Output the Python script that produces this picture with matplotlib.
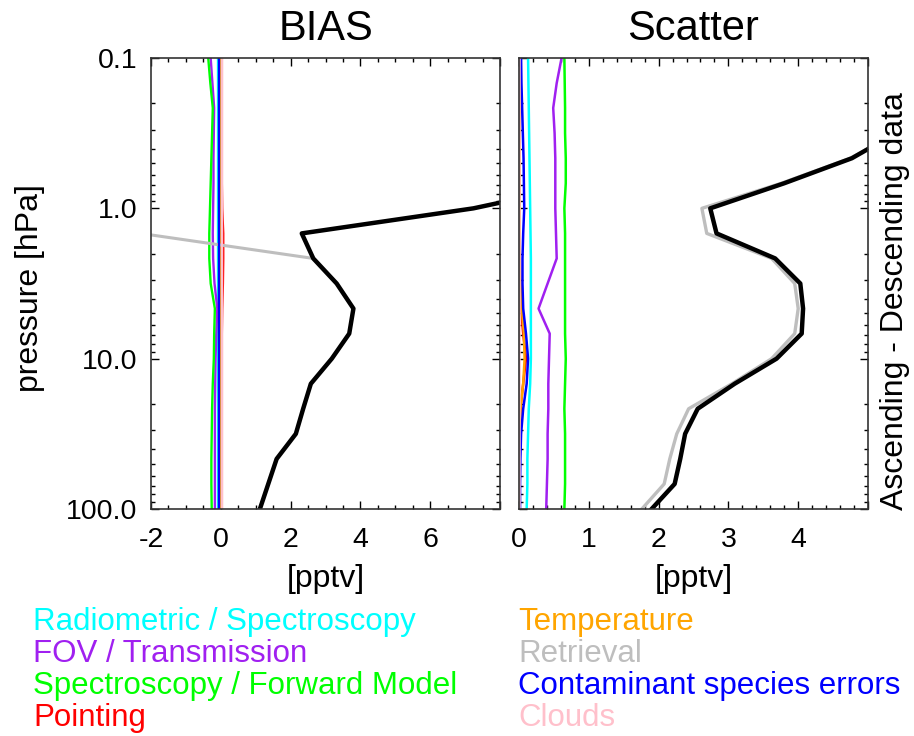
import matplotlib
matplotlib.use('Agg')
import matplotlib.pyplot as plt
from matplotlib.ticker import MultipleLocator, LogLocator, NullFormatter

plt.rcParams['font.family'] = ['Liberation Sans', 'DejaVu Sans']
plt.rcParams['font.size'] = 20.5

# pressure grid [hPa], 6 levels per decade
pressure = [0.1, 0.147, 0.215, 0.316, 0.464, 0.681, 1.0, 1.468, 2.154, 3.162,
            4.642, 6.813, 10.0, 14.68, 21.54, 31.62, 46.42, 68.13, 100.0]

# BIAS panel [pptv]
bias_radiometric = [-0.07] * 19
bias_fov = [-0.29, -0.24, -0.19, -0.20, -0.21, -0.21, -0.22, -0.23, -0.22, -0.18,
            -0.10, -0.13, -0.15, -0.16, -0.17, -0.17, -0.17, -0.17, -0.17]
bias_spectro = [-0.36, -0.30, -0.23, -0.25, -0.27, -0.29, -0.31, -0.33, -0.33, -0.29,
                -0.17, -0.19, -0.20, -0.23, -0.25, -0.26, -0.27, -0.27, -0.26]
bias_pointing = [0.03, 0.03, 0.03, 0.03, 0.03, 0.03, 0.04, 0.07, 0.07, 0.06,
                 0.04, 0.03, 0.03, 0.03, 0.03, 0.03, 0.03, 0.03, 0.03]
bias_temperature = [0.01] * 19
bias_contaminant = [-0.05] * 19
bias_clouds = [0.03] * 19
bias_total = [20.0, 18.0, 16.0, 14.0, 12.0, 10.6, 7.24, 2.32, 2.65, 3.32,
              3.80, 3.68, 3.18, 2.58, 2.36, 2.15, 1.60, 1.36, 1.12]
bias_retrieval = [-14.0, -13.0, -12.0, -11.0, -10.0, -9.0, -6.0, -2.3, 2.65, 3.32,
                  3.80, 3.68, 3.18, 2.58, 2.36, 2.15, 1.60, 1.36, 1.12]

# Scatter panel [pptv]
sc_radiometric = [0.13, 0.135, 0.14, 0.145, 0.15, 0.155, 0.16, 0.165, 0.17, 0.17,
                  0.17, 0.17, 0.17, 0.16, 0.14, 0.13, 0.12, 0.12, 0.11]
sc_fov = [0.61, 0.54, 0.49, 0.51, 0.52, 0.52, 0.52, 0.53, 0.54, 0.41,
          0.28, 0.44, 0.43, 0.42, 0.42, 0.41, 0.41, 0.40, 0.39]
sc_spectro = [0.65, 0.655, 0.66, 0.66, 0.67, 0.67, 0.65, 0.66, 0.66, 0.66,
              0.66, 0.66, 0.67, 0.66, 0.65, 0.66, 0.66, 0.66, 0.65]
sc_pointing = [0.005, 0.005, 0.005, 0.005, 0.005, 0.005, 0.005, 0.005, 0.005, 0.01,
               0.03, 0.06, 0.10, 0.06, 0.02, 0.005, 0.005, 0.005, 0.005]
sc_temperature = [0.01, 0.01, 0.01, 0.01, 0.01, 0.01, 0.01, 0.01, 0.01, 0.02,
                  0.04, 0.07, 0.08, 0.06, 0.02, 0.01, 0.01, 0.01, 0.01]
sc_contaminant = [0.03, 0.035, 0.045, 0.055, 0.065, 0.07, 0.075, 0.06, 0.05, 0.05,
                  0.06, 0.10, 0.13, 0.11, 0.06, 0.03, 0.02, 0.015, 0.015]
sc_clouds = [0.005] * 19
sc_total = [6.5, 6.2, 5.9, 5.4, 4.77, 3.80, 2.74, 2.83, 3.67, 4.03,
            4.07, 4.05, 3.69, 3.09, 2.56, 2.38, 2.31, 2.23, 1.90]
sc_retrieval = [6.5, 6.2, 5.9, 5.4, 4.75, 3.76, 2.62, 2.69, 3.62, 3.95,
                4.00, 3.95, 3.62, 3.05, 2.43, 2.26, 2.16, 2.08, 1.76]

labels = ['Radiometric / Spectroscopy', 'FOV / Transmission',
          'Spectroscopy / Forward Model', 'Pointing',
          'Temperature', 'Retrieval', 'Contaminant species errors', 'Clouds']
colors = ['#00ffff', '#a020f0', '#00ff00', '#ff0000',
          '#ffa500', '#bebebe', '#0000ff', '#ffc0cb']

bias_series = [bias_radiometric, bias_fov, bias_spectro, bias_pointing,
               bias_temperature, bias_retrieval, bias_contaminant, bias_clouds]
sc_series = [sc_radiometric, sc_fov, sc_spectro, sc_pointing,
             sc_temperature, sc_retrieval, sc_contaminant, sc_clouds]


def style_axis(ax, xlim, minor, xticks, xlabels, show_y):
    ax.set_yscale('log')
    ax.set_xlim(*xlim)
    ax.set_xticks(xticks, xlabels)
    ax.xaxis.set_minor_locator(MultipleLocator(minor))
    ax.yaxis.set_minor_locator(LogLocator(base=10, subs=range(2, 10)))
    ax.yaxis.set_minor_formatter(NullFormatter())
    ax.set_yticks([0.1, 1, 10, 100], ['0.1', '1.0', '10.0', '100.0'] if show_y else [])
    ax.set_ylim(100, 0.1)
    ax.tick_params(which='both', direction='in', top=True, right=True, width=1)
    ax.tick_params(which='major', length=6)
    ax.tick_params(which='minor', length=3)
    ax.tick_params(axis='x', which='major', pad=13)
    ax.tick_params(axis='y', which='major', pad=10)
    for s in ax.spines.values():
        s.set_linewidth(1.2)
        s.set_color('#333333')
    ax.set_xlabel('[pptv]', fontsize=23, labelpad=8)


fig = plt.figure(figsize=(9.14, 7.36), dpi=100)
ax1 = fig.add_axes([151 / 914, 1 - 509 / 736, 349 / 914, 451 / 736])
ax2 = fig.add_axes([519 / 914, 1 - 509 / 736, 349 / 914, 451 / 736])

for vals, c in zip(bias_series, colors):
    lw = 2.2 if c == '#bebebe' else 1.7
    ax1.plot(vals, pressure, color=c, lw=lw)
ax1.plot(bias_total, pressure, color='black', lw=3.2)

for vals, c in zip(sc_series, colors):
    lw = 2.4 if c == '#bebebe' else 1.8
    ax2.plot(vals, pressure, color=c, lw=lw)
ax2.plot(sc_total, pressure, color='black', lw=3.2)

style_axis(ax1, (-2, 8), 0.5, [-2, 0, 2, 4, 6, 8], ['-2', '0', '2', '4', '6', ''], True)
style_axis(ax2, (0, 5), 0.2, [0, 1, 2, 3, 4, 5], ['0', '1', '2', '3', '4', ''], False)

ax1.set_title('BIAS', fontsize=30, pad=13)
ax2.set_title('Scatter', fontsize=30, pad=13)

fig.text(30 / 914, 1 - 288 / 736, 'pressure [hPa]', fontsize=23, rotation=90,
         ha='center', va='center')
fig.text(895 / 914, 1 - 301 / 736, 'Ascending - Descending data', fontsize=23,
         rotation=90, ha='center', va='center')

# colour key below the panels, two columns
for i, (lab, c) in enumerate(zip(labels, colors)):
    col, row = divmod(i, 4)
    x = (33 if col == 0 else 518) / 914
    y = 1 - (630 + 32 * row) / 736
    fig.text(x, y, lab, color=c, fontsize=22.5, ha='left', va='baseline')

fig.savefig('out.png', dpi=100)
